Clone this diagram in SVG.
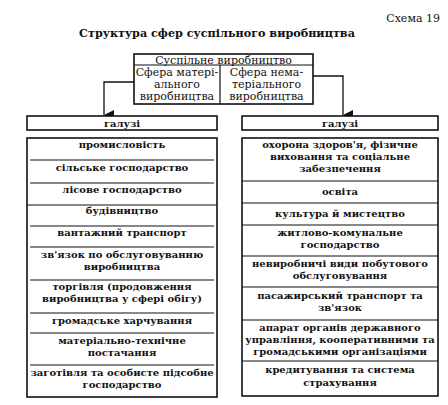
<svg xmlns="http://www.w3.org/2000/svg" width="448" height="405" viewBox="0 0 448 405">
<defs>
<marker id="arr" markerWidth="10" markerHeight="10" refX="5" refY="10" orient="auto" markerUnits="userSpaceOnUse" viewBox="0 0 10 10">
<path d="M0,0 L10,0 L5,10 Z" fill="#111"/>
</marker>
</defs>
<style>
.t{font-family:"DejaVu Serif","Liberation Serif",serif;fill:#111;text-anchor:middle}
.b{font-weight:bold;font-size:10px}
.r{font-size:11px}
.box{fill:#fff;stroke:#111;stroke-width:1.6}
.ln{stroke:#111;stroke-width:1.2;fill:none}
.cn{stroke:#111;stroke-width:1.3;fill:none}
</style>
<rect width="448" height="405" fill="#fff"/>
<text class="t" x="440" y="22" style="text-anchor:end;font-size:11px">Схема 19</text>
<text class="t" x="217" y="37" style="font-weight:bold;font-size:11.2px">Структура сфер суспільного виробництва</text>

<g id="top">
<rect class="box" x="134" y="54" width="179" height="50"/>
<line class="ln" x1="134" y1="65" x2="313" y2="65"/>
<line class="ln" x1="220" y1="65" x2="220" y2="104"/>
<text class="t r" x="223.5" y="63.5">Суспільне виробництво</text>
<text class="t r" x="177" y="76">Сфера матері-</text>
<text class="t r" x="177" y="88">ального</text>
<text class="t r" x="177" y="100">виробництва</text>
<text class="t r" x="266.5" y="76">Сфера нема-</text>
<text class="t r" x="266.5" y="88">теріального</text>
<text class="t r" x="266.5" y="100">виробництва</text>
</g>

<g id="connectors">
<path class="cn" d="M134,82 H104 V115" marker-end="url(#arr)"/>
<path class="cn" d="M313,76 H343 V115" marker-end="url(#arr)"/>
</g>

<g id="galuzi-left">
<rect class="box" x="27" y="116" width="190" height="14"/>
<text class="t b" x="122" y="127">галузі</text>
</g>
<g id="galuzi-right">
<rect class="box" x="242" y="116" width="196" height="14"/>
<text class="t b" x="340" y="127">галузі</text>
</g>

<g id="list-left">
<rect class="box" x="27" y="138" width="190" height="259"/>
<line class="ln" x1="30" y1="160" x2="214" y2="160"/>
<line class="ln" x1="30" y1="183" x2="214" y2="183"/>
<line class="ln" x1="27" y1="205" x2="217" y2="205"/>
<line class="ln" x1="30" y1="226" x2="214" y2="226"/>
<line class="ln" x1="30" y1="247" x2="214" y2="247"/>
<line class="ln" x1="30" y1="280" x2="214" y2="280"/>
<line class="ln" x1="30" y1="313" x2="214" y2="313"/>
<line class="ln" x1="30" y1="333" x2="214" y2="333"/>
<line class="ln" x1="30" y1="365" x2="214" y2="365"/>
<text class="t b" x="122" y="148">промисловість</text>
<text class="t b" x="122" y="171">сільське господарство</text>
<text class="t b" x="122" y="193">лісове господарство</text>
<text class="t b" x="122" y="214">будівництво</text>
<text class="t b" x="122" y="236">вантажний транспорт</text>
<text class="t b" x="122" y="258">зв'язок по обслуговуванню</text>
<text class="t b" x="122" y="270">виробництва</text>
<text class="t b" x="122" y="290">торгівля (продовження</text>
<text class="t b" x="122" y="302">виробництва у сфері обігу)</text>
<text class="t b" x="122" y="324">громадське харчування</text>
<text class="t b" x="122" y="344">матеріально-технічне</text>
<text class="t b" x="122" y="356">постачання</text>
<text class="t b" x="122" y="376">заготівля та особисте підсобне</text>
<text class="t b" x="122" y="388">господарство</text>
</g>

<g id="list-right">
<rect class="box" x="242" y="138" width="196" height="258"/>
<line class="ln" x1="242" y1="181" x2="438" y2="181"/>
<line class="ln" x1="242" y1="203" x2="438" y2="203"/>
<line class="ln" x1="242" y1="225" x2="438" y2="225"/>
<line class="ln" x1="242" y1="256" x2="438" y2="256"/>
<line class="ln" x1="242" y1="287" x2="438" y2="287"/>
<line class="ln" x1="242" y1="320" x2="438" y2="320"/>
<line class="ln" x1="242" y1="361" x2="438" y2="361"/>
<text class="t b" x="340" y="148">охорона здоров'я, фізичне</text>
<text class="t b" x="340" y="160">виховання та соціальне</text>
<text class="t b" x="340" y="172">забезпечення</text>
<text class="t b" x="340" y="195">освіта</text>
<text class="t b" x="340" y="217">культура й мистецтво</text>
<text class="t b" x="340" y="236">житлово-комунальне</text>
<text class="t b" x="340" y="248">господарство</text>
<text class="t b" x="340" y="267">невиробничі види побутового</text>
<text class="t b" x="340" y="279">обслуговування</text>
<text class="t b" x="340" y="299">пасажирський транспорт та</text>
<text class="t b" x="340" y="311">зв'язок</text>
<text class="t b" x="340" y="331">апарат органів державного</text>
<text class="t b" x="340" y="343">управління, кооперативними та</text>
<text class="t b" x="340" y="355">громадськими організаціями</text>
<text class="t b" x="340" y="373">кредитування та система</text>
<text class="t b" x="340" y="386">страхування</text>
</g>
</svg>
